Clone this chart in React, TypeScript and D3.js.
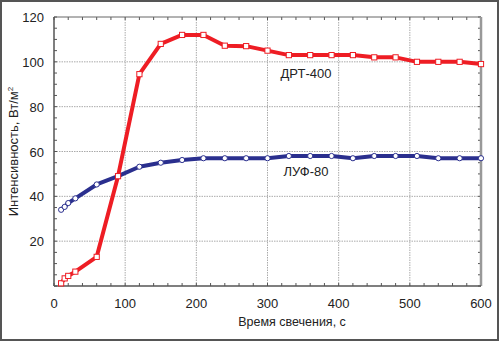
import React from "react";
import * as d3 from "d3";

const drtX = [10, 15, 20, 30, 60, 90, 120, 150, 180, 210, 240, 270, 300, 330, 360, 390, 420, 450, 480, 510, 540, 570, 600];
const drtY = [1.2, 3.4, 4.5, 6.4, 13, 49, 94.5, 108, 112, 112, 107.2, 107, 105, 103, 103, 103, 103, 102, 102, 100, 100, 100, 99];
const lufX = [10, 15, 20, 30, 60, 90, 120, 150, 180, 210, 240, 270, 300, 330, 360, 390, 420, 450, 480, 510, 540, 570, 600];
const lufY = [34, 35.3, 37, 39.1, 45.3, 49, 53.2, 55, 56.2, 57, 57, 57, 57, 58, 58, 58, 57, 58, 58, 58, 57, 57, 57];
const xTicks = [0, 100, 200, 300, 400, 500, 600];
const yTicks = [20, 40, 60, 80, 100, 120];
const xTitle = "Время свечения, с";
const yTitle = "Интенсивность, Вт/м";
const seriesLabels = ["ДРТ-400", "ЛУФ-80"];

export default function App() {
  const L = 54, R = 481, T = 17, B = 286;
  const x = d3.scaleLinear().domain([0, 600]).range([L, R]);
  const y = d3.scaleLinear().domain([0, 120]).range([B, T]);
  const line = d3.line<[number, number]>().x(d => x(d[0])).y(d => y(d[1]));
  const drt: [number, number][] = drtX.map((v, i) => [v, drtY[i]]);
  const luf: [number, number][] = lufX.map((v, i) => [v, lufY[i]]);
  const red = "#ee1d24";
  const blue = "#2a2f8e";
  const font = "'Liberation Sans', Arial, sans-serif";
  const xMinor = d3.range(0, 601, 20);
  const yMinor = d3.range(0, 121, 5);

  return (
    <svg width={500} height={341} style={{ position: "absolute", left: 0, top: 0 }} fontFamily={font}>
      <rect x={0} y={0} width={500} height={341} fill="#fff" />
      <rect x={1} y={1} width={497} height={339} fill="none" stroke="#555" strokeWidth={2} />
      {/* grid */}
      {xTicks.filter(t => t > 0 && t < 600).map(t => (
        <line key={"gx" + t} x1={x(t)} x2={x(t)} y1={T} y2={B} stroke="#aaa" strokeWidth={1} strokeDasharray="1.5,1" />
      ))}
      {yTicks.filter(t => t < 120).map(t => (
        <line key={"gy" + t} x1={L} x2={R} y1={y(t)} y2={y(t)} stroke="#aaa" strokeWidth={1} strokeDasharray="1.5,1" />
      ))}
      {/* minor ticks */}
      {xMinor.map(t => (
        <g key={"mx" + t}>
          <line x1={x(t)} x2={x(t)} y1={B} y2={B - 3} stroke="#555" strokeWidth={1} />
          <line x1={x(t)} x2={x(t)} y1={T} y2={T + 3} stroke="#555" strokeWidth={1} />
        </g>
      ))}
      {yMinor.map(t => (
        <g key={"my" + t}>
          <line x1={L} x2={L + 3} y1={y(t)} y2={y(t)} stroke="#555" strokeWidth={1} />
          <line x1={R} x2={R - 3} y1={y(t)} y2={y(t)} stroke="#555" strokeWidth={1} />
        </g>
      ))}
      {/* spines */}
      <line x1={L} x2={R} y1={T} y2={T} stroke="#666" strokeWidth={1} />
      <line x1={R} x2={R} y1={T} y2={B} stroke="#999" strokeWidth={2.5} />
      <line x1={L} x2={L} y1={T} y2={B} stroke="#555" strokeWidth={1.5} />
      <line x1={L} x2={R} y1={B} y2={B} stroke="#555" strokeWidth={1.5} />
      {/* tick labels */}
      {xTicks.map(t => (
        <text key={"xl" + t} x={x(t)} y={308} textAnchor="middle" fontSize={13} fill="#222">{t}</text>
      ))}
      {yTicks.map(t => (
        <text key={"yl" + t} x={44} y={y(t) + 5} textAnchor="end" fontSize={13} fill="#222">{t}</text>
      ))}
      <text x={292} y={326} textAnchor="middle" fontSize={12.5} fill="#222">{xTitle}</text>
      <text transform={`translate(18,${(T + B) / 2}) rotate(-90)`} textAnchor="middle" fontSize={13} fill="#222">
        {yTitle}<tspan dy={-5} fontSize={8}>2</tspan>
      </text>
      {/* lines */}
      <path d={line(drt) || ""} fill="none" stroke={red} strokeWidth={4} strokeLinejoin="round" />
      <path d={line(luf) || ""} fill="none" stroke={blue} strokeWidth={4} strokeLinejoin="round" />
      {luf.map((d, i) => (
        <circle key={"c" + i} cx={x(d[0])} cy={y(d[1])} r={2.6} fill="#fff" stroke={blue} strokeWidth={1} />
      ))}
      {drt.map((d, i) => (
        <rect key={"s" + i} x={x(d[0]) - 2.6} y={y(d[1]) - 2.6} width={5.2} height={5.2} fill="#fff" stroke={red} strokeWidth={1} />
      ))}
      <text x={306} y={78} textAnchor="middle" fontSize={13} fill="#222">{seriesLabels[0]}</text>
      <text x={306} y={176} textAnchor="middle" fontSize={13} fill="#222">{seriesLabels[1]}</text>
    </svg>
  );
}
